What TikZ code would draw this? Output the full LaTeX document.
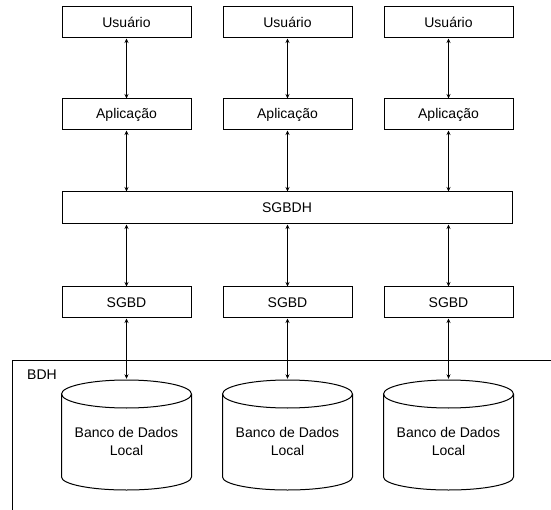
\documentclass[tikz,border=0pt]{standalone}
\usepackage{fontspec}
\setmainfont{Liberation Sans}
\usetikzlibrary{arrows.meta}
\begin{document}
\begin{tikzpicture}[x=1pt,y=-1pt,
  box/.style={draw, line width=1pt, minimum width=129pt, minimum height=31pt,
    inner sep=0pt, font=\fontsize{14}{16}\selectfont},
  link/.style={line width=1pt,
    {Stealth[length=4.5pt,width=4pt]}-{Stealth[length=4.5pt,width=4pt]}},
  dbarea/.style={minimum width=130pt, minimum height=111pt, inner sep=0pt},
  dbtext/.style={align=center, font=\fontsize{14}{18}\selectfont, inner sep=0pt},
  outline/.style={line width=1pt}]
\useasboundingbox (0,0) rectangle (551,510);

% boundary of the heterogeneous database
\draw[outline] (551,360) -- (12,360) -- (12,511);
\node[anchor=west, font=\fontsize{14}{16}\selectfont, inner sep=0pt] (bdh) at (27,375) {BDH};

% integration layer
\node[box, minimum width=450pt, minimum height=32pt] (sgbdh) at (287,208) {SGBDH};

\foreach \i/\x in {1/126.5, 2/287.5, 3/448.5} {
  \node[box] (usr\i) at (\x,22.5) {Usuário};
  \node[box] (app\i) at (\x,114.5) {Aplicação};
  \node[box] (sgbd\i) at (\x,302.5) {SGBD};
  % local database drum
  \node[dbarea] (db\i) at (\x,434.5) {};
  \draw[outline] (\x-65,394) -- (\x-65,477)
    arc[start angle=180, end angle=0, x radius=65, y radius=13] -- (\x+65,394);
  \draw[outline] (\x,394) ellipse [x radius=65, y radius=14];
  \node[dbtext] (dbl\i) at (\x,441) {Banco de Dados\\Local};
  % connections
  \draw[link] (usr\i.south) -- (app\i.north);
  \draw[link] (app\i.south) -- (app\i.south |- sgbdh.north);
  \draw[link] (sgbd\i.north |- sgbdh.south) -- (sgbd\i.north);
  \draw[link] (sgbd\i.south) -- (db\i.north);
}
\end{tikzpicture}
\end{document}
